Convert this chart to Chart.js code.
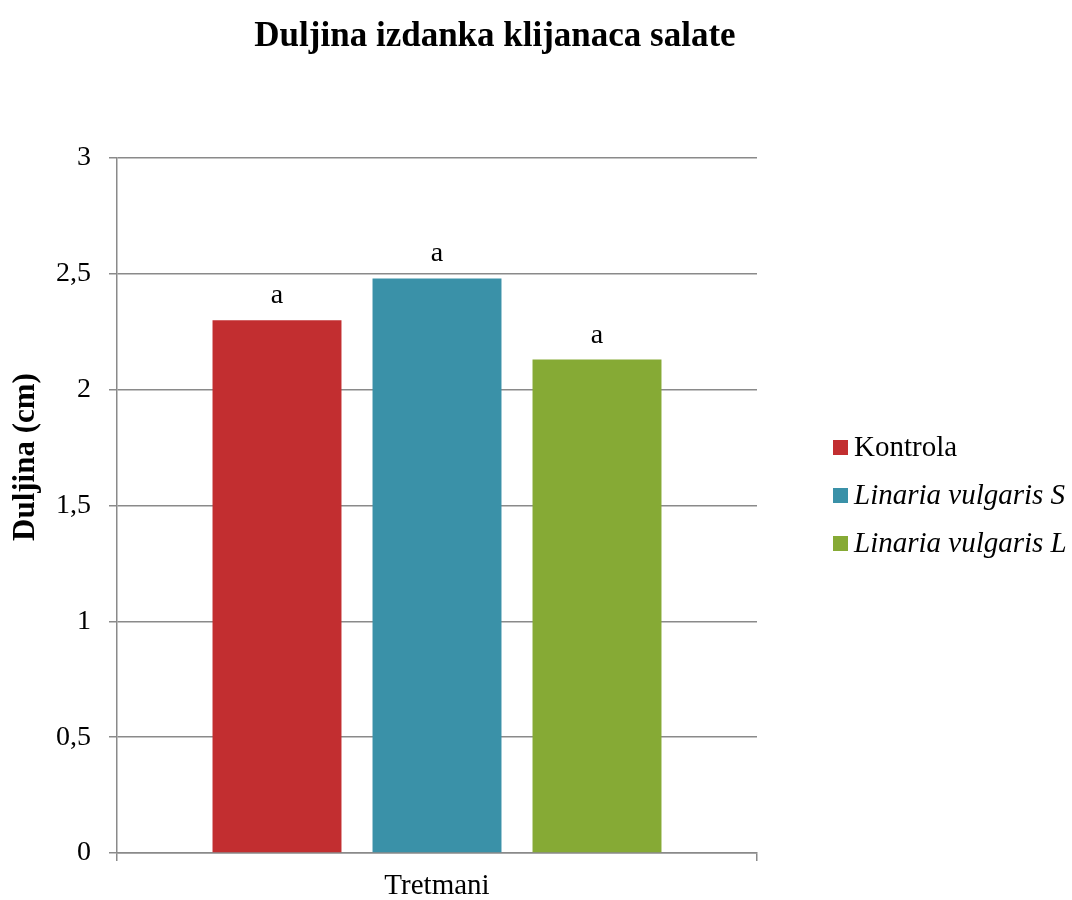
<!DOCTYPE html>
<html>
<head>
<meta charset="utf-8">
<script src="https://cdn.jsdelivr.net/npm/chart.js@4.4.0/dist/chart.umd.min.js"></script>
<style>
  html, body { margin: 0; padding: 0; background: #fff; }
  #wrap { width: 1072px; height: 900px; position: relative; }
</style>
</head>
<body>
<div id="wrap"><canvas id="chart" width="1072" height="900"></canvas></div>
<script>
// data
const categories = ['Tretmani'];
const seriesNames = ['Kontrola', 'Linaria vulgaris S', 'Linaria vulgaris L'];
const seriesValues = [2.30, 2.48, 2.13];
const seriesLetters = ['a', 'a', 'a'];
const seriesColors = ['#C22E30', '#3A91A8', '#86AA35'];
const italicNames = [false, true, true];
const yTicks = [0, 0.5, 1, 1.5, 2, 2.5, 3];

const serif = '"Liberation Serif", "Times New Roman", serif';

// title, y title, letters above bars, legend on the right
const extras = {
    id: 'extras',
    afterDraw(chart) {
        const ctx = chart.ctx;
        ctx.save();
        ctx.fillStyle = '#000';
        ctx.textAlign = 'center';
        ctx.textBaseline = 'alphabetic';
        ctx.font = 'bold 35px ' + serif;
        ctx.fillText('Duljina izdanka klijanaca salate', 495, 46);

        // y axis title
        ctx.save();
        ctx.translate(26, 457);
        ctx.rotate(-Math.PI / 2);
        ctx.textBaseline = 'middle';
        ctx.font = 'bold 31px ' + serif;
        ctx.fillText('Duljina (cm)', 0, 0);
        ctx.restore();

        // letters
        ctx.font = '28px ' + serif;
        chart.data.datasets.forEach((ds, i) => {
            const bar = chart.getDatasetMeta(i).data[0];
            ctx.fillText(seriesLetters[i], bar.x, bar.y - 17);
        });

        // legend
        ctx.textAlign = 'left';
        seriesNames.forEach((name, i) => {
            const y = 447.5 + i * 48;
            ctx.fillStyle = seriesColors[i];
            ctx.fillRect(833, y - 7.5, 15, 15);
            ctx.fillStyle = '#000';
            ctx.font = (italicNames[i] ? 'italic ' : '') + '29px ' + serif;
            ctx.fillText(name, 854, y + 8.5);
        });
        ctx.restore();
    }
};

const ctx = document.getElementById('chart').getContext('2d');
new Chart(ctx, {
    type: 'bar',
    data: {
        labels: categories,
        datasets: seriesNames.map((name, i) => ({
            label: name,
            data: [seriesValues[i]],
            backgroundColor: seriesColors[i],
            categoryPercentage: 0.75,
            barPercentage: 0.806
        }))
    },
    options: {
        responsive: false,
        animation: false,
        layout: {
            padding: { top: 158, right: 315, left: 0, bottom: 0 }
        },
        plugins: {
            legend: { display: false },
            title: { display: false },
            tooltip: { enabled: false }
        },
        scales: {
            x: {
                grid: {
                    display: true,
                    drawOnChartArea: false,
                    drawTicks: true,
                    tickLength: 8,
                    color: '#8a8a8a',
                    lineWidth: 1.5,
                    offset: true
                },
                border: { color: '#8a8a8a', width: 1.5 },
                ticks: { display: false },
                title: {
                    display: true,
                    text: 'Tretmani',
                    color: '#000',
                    font: { family: serif, size: 29 },
                    padding: { top: 0, bottom: -4 }
                },
                afterFit(scale) { scale.height = 47; }
            },
            y: {
                min: 0,
                max: 3,
                afterBuildTicks(scale) {
                    scale.ticks = yTicks.map(v => ({ value: v }));
                },
                ticks: {
                    color: '#000',
                    padding: 18,
                    font: { family: serif, size: 28 },
                    callback: v => String(v).replace('.', ',')
                },
                grid: {
                    color: '#8a8a8a',
                    lineWidth: 1.5,
                    tickLength: 8
                },
                border: { color: '#8a8a8a', width: 1.5 },
                afterFit(scale) { scale.width = 117; }
            }
        }
    },
    plugins: [extras]
});
</script>
</body>
</html>
